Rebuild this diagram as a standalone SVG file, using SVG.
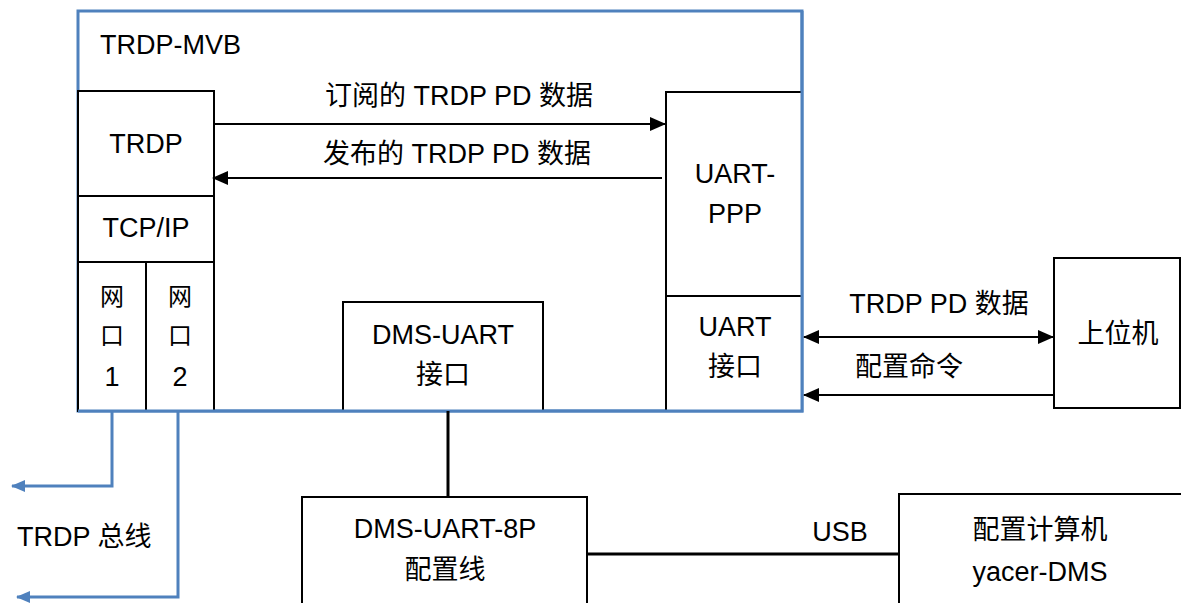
<svg xmlns="http://www.w3.org/2000/svg" width="1181" height="603" viewBox="0 0 1181 603">
<defs>
<style>
text{font-family:"Liberation Sans","Noto Sans CJK SC",sans-serif;font-size:27px;fill:#000}
.c{text-anchor:middle}
.box{fill:#fff;stroke:#000;stroke-width:2}
.blue{fill:none;stroke:#4F81BD;stroke-width:3}
.ln{fill:none;stroke:#000;stroke-width:2}
</style>
<marker id="ab" markerWidth="14" markerHeight="12" refX="13" refY="6" orient="auto" markerUnits="userSpaceOnUse"><path d="M0,0 L14,6 L0,12 z" fill="#4F81BD"/></marker>
<marker id="ak" markerWidth="16" markerHeight="14" refX="15" refY="7" orient="auto-start-reverse" markerUnits="userSpaceOnUse"><path d="M0,0 L16,7 L0,14 z" fill="#000"/></marker>
</defs>
<rect width="1181" height="603" fill="#fff"/>
<g id="trdp-mvb">
<rect x="78" y="11" width="724" height="400" class="blue"/>
<text x="100" y="54">TRDP-MVB</text>
</g>
<g id="trdp"><rect x="78" y="91" width="136" height="105" class="box"/><text x="146" y="153" class="c">TRDP</text></g>
<g id="tcpip"><rect x="78" y="196" width="136" height="66" class="box"/><text x="146" y="237" class="c">TCP/IP</text></g>
<g id="port1"><rect x="78" y="262" width="68" height="149" class="box"/><text x="112" y="305" class="c" style="font-size:24px">网</text><text x="112" y="344" class="c" style="font-size:24px">口</text><text x="112" y="386" class="c">1</text></g>
<g id="port2"><rect x="146" y="262" width="68" height="149" class="box"/><text x="180" y="305" class="c" style="font-size:24px">网</text><text x="180" y="344" class="c" style="font-size:24px">口</text><text x="180" y="386" class="c">2</text></g>
<g id="uart-ppp"><rect x="666" y="92" width="136" height="204" class="box"/><text x="735" y="183" class="c">UART-</text><text x="735" y="223" class="c">PPP</text></g>
<g id="uart-if"><rect x="666" y="296" width="136" height="115" class="box"/><text x="735" y="336" class="c">UART</text><text x="735" y="376" class="c">接口</text></g>
<g id="dms-uart"><rect x="343" y="302" width="200" height="109" class="box"/><text x="443" y="344" class="c">DMS-UART</text><text x="443" y="384" class="c">接口</text></g>
<path d="M78,411 H802 V11" class="blue"/>
<g id="host"><rect x="1054" y="258" width="126" height="150" class="box"/><text x="1118" y="343" class="c">上位机</text></g>
<g id="dms-cable"><rect x="302" y="497" width="285" height="110" class="box"/><text x="445" y="538" class="c">DMS-UART-8P</text><text x="445" y="579" class="c">配置线</text></g>
<g id="cfg-pc"><rect x="899" y="494" width="286" height="113" class="box"/><text x="1040" y="539" class="c">配置计算机</text><text x="1040" y="581" class="c">yacer-DMS</text></g>
<g id="connectors">
<line x1="214" y1="124" x2="665" y2="124" class="ln" marker-end="url(#ak)"/>
<line x1="662" y1="178" x2="213" y2="178" class="ln" marker-end="url(#ak)"/>
<line x1="804" y1="337" x2="1053" y2="337" class="ln" marker-start="url(#ak)" marker-end="url(#ak)"/>
<line x1="1054" y1="395" x2="804" y2="395" class="ln" marker-end="url(#ak)"/>
<line x1="448" y1="411" x2="448" y2="497" class="ln" style="stroke-width:3"/>
<line x1="587" y1="554" x2="899" y2="554" class="ln" style="stroke-width:3"/>
<path d="M112,412 V486 H12" class="blue" marker-end="url(#ab)"/>
<path d="M178,412 V597 H17" class="blue" marker-end="url(#ab)"/>
</g>
<text x="459" y="105" class="c">订阅的 TRDP PD 数据</text>
<text x="457" y="163" class="c">发布的 TRDP PD 数据</text>
<text x="939" y="313" class="c">TRDP PD 数据</text>
<text x="909" y="376" class="c">配置命令</text>
<text x="17" y="546">TRDP 总线</text>
<text x="840" y="541" class="c">USB</text>
</svg>
